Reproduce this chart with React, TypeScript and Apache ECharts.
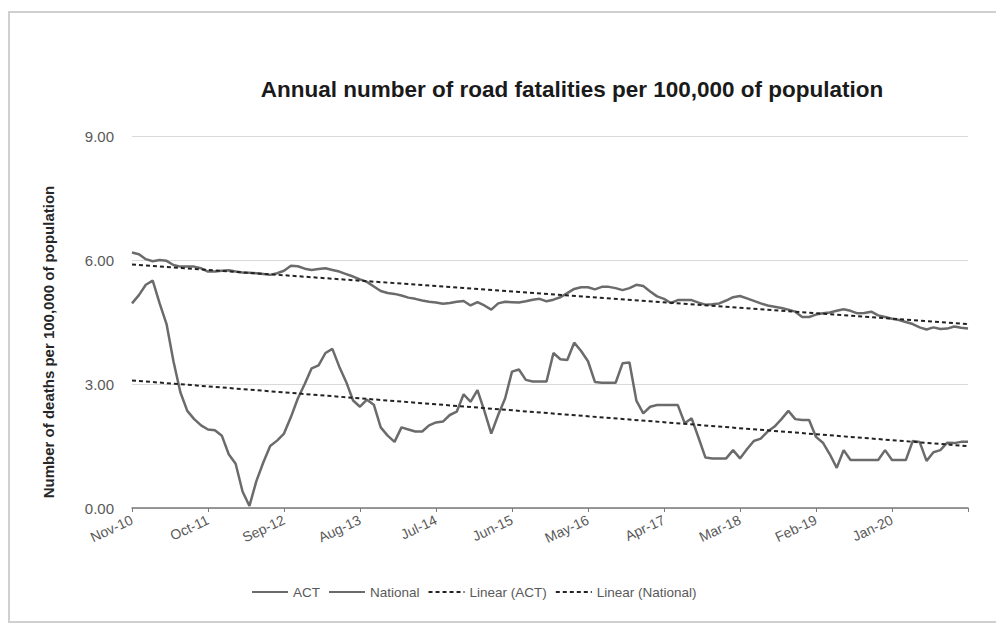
import React, { useEffect, useRef } from "react";
import * as echarts from "echarts";

const MONTH_NAMES = ["Jan", "Feb", "Mar", "Apr", "May", "Jun", "Jul", "Aug", "Sep", "Oct", "Nov", "Dec"];
const START_YEAR = 2010;
const START_MONTH = 10; // Nov (0-based)

const actValues = [
  4.95, 5.15, 5.4, 5.5, 4.95, 4.45, 3.55, 2.8, 2.35, 2.15, 2.0, 1.9, 1.88, 1.75, 1.3, 1.07, 0.4, 0.05, 0.65, 1.1,
  1.5, 1.63, 1.8, 2.2, 2.65, 3.0, 3.38, 3.45, 3.75, 3.85, 3.42, 3.05, 2.6, 2.45, 2.62, 2.5, 1.95, 1.75, 1.6, 1.95,
  1.9, 1.85, 1.85, 2.0, 2.07, 2.09, 2.25, 2.33, 2.75, 2.57, 2.85, 2.35, 1.8, 2.25, 2.65, 3.3, 3.35, 3.1, 3.06, 3.06,
  3.06, 3.75, 3.6, 3.58, 4.0, 3.8, 3.55, 3.05, 3.03, 3.03, 3.03, 3.5, 3.52, 2.6, 2.29, 2.45, 2.49, 2.49, 2.49, 2.49,
  2.05, 2.17, 1.7, 1.22, 1.2, 1.2, 1.2, 1.4, 1.2, 1.42, 1.62, 1.68, 1.85, 1.97, 2.15, 2.35, 2.15, 2.13, 2.13, 1.72,
  1.58, 1.3, 0.97, 1.4, 1.16, 1.16, 1.16, 1.16, 1.16, 1.4, 1.16, 1.16, 1.16, 1.62, 1.6, 1.14, 1.35, 1.4, 1.58, 1.57,
  1.6, 1.6,
];

const nationalValues = [
  6.18, 6.14, 6.02, 5.97, 6.0, 5.98, 5.88, 5.84, 5.84, 5.84, 5.8, 5.72, 5.72, 5.74, 5.75, 5.72, 5.7, 5.69, 5.68, 5.66,
  5.64, 5.68, 5.74, 5.86, 5.85, 5.79, 5.76, 5.78, 5.8, 5.76, 5.72, 5.66, 5.6, 5.53, 5.47, 5.36, 5.25, 5.2, 5.18, 5.14,
  5.09, 5.06, 5.02, 4.99, 4.97, 4.94, 4.96, 4.99, 5.01, 4.9, 4.98, 4.9, 4.8, 4.95, 4.99, 4.98, 4.97, 5.0, 5.04, 5.06,
  5.0, 5.04, 5.1, 5.2, 5.3, 5.34, 5.34, 5.29, 5.35, 5.35, 5.32, 5.27, 5.32, 5.4, 5.37, 5.24, 5.12, 5.06, 4.96, 5.03,
  5.03, 5.03, 4.97, 4.92, 4.93, 4.95, 5.02, 5.1, 5.13, 5.07, 5.01, 4.95, 4.9, 4.87, 4.84, 4.8, 4.75, 4.62, 4.62, 4.68,
  4.71, 4.73, 4.77, 4.81, 4.77, 4.71, 4.72, 4.75, 4.66, 4.62, 4.58, 4.55, 4.5, 4.45, 4.37, 4.32, 4.37, 4.33, 4.34, 4.39,
  4.36, 4.34,
];

const yTicks = [0, 3, 6, 9];
const LABEL_STEP = 11;

const categories: string[] = actValues.map((_, i) => {
  const m = START_MONTH + i;
  const year = START_YEAR + Math.floor(m / 12);
  return `${MONTH_NAMES[m % 12]}-${String(year % 100).padStart(2, "0")}`;
});

function linearFit(values: number[]): [number, number][] {
  const n = values.length;
  let sx = 0, sy = 0, sxx = 0, sxy = 0;
  values.forEach((v, i) => {
    sx += i; sy += v; sxx += i * i; sxy += i * v;
  });
  const slope = (n * sxy - sx * sy) / (n * sxx - sx * sx);
  const intercept = (sy - slope * sx) / n;
  return [
    [0, intercept],
    [n - 1, intercept + slope * (n - 1)],
  ];
}

const FONT = "'Liberation Sans', Arial, sans-serif";

export default function App() {
  const ref = useRef<HTMLDivElement>(null);
  useEffect(() => {
    if (!ref.current) return;
    const chart = echarts.init(ref.current, undefined, { renderer: "svg" });
    const lineColor = "#6b6b6b";
    chart.setOption({
      animation: false,
      backgroundColor: "#ffffff",
      textStyle: { fontFamily: FONT },
      graphic: [
        {
          type: "rect",
          shape: { x: 9, y: 12, width: 1000, height: 610 },
          style: { fill: "none", stroke: "#d0d0d0", lineWidth: 2 },
          silent: true,
        },
      ],
      title: {
        text: "Annual number of road fatalities per 100,000 of population",
        left: 567,
        textAlign: "center",
        top: 73,
        textStyle: { fontSize: 22.5, fontWeight: "bold", color: "#1a1a1a", fontFamily: FONT },
      },
      grid: { left: 132, right: 28, top: 136, bottom: 116 },
      legend: {
        bottom: 20,
        left: 246,
        itemWidth: 36,
        itemHeight: 10,
        itemGap: 8,
        itemStyle: { opacity: 0 },
        textStyle: { color: "#595959", fontSize: 13.5, fontFamily: FONT },
        data: ["ACT", "National", "Linear (ACT)", "Linear (National)"],
      },
      xAxis: {
        type: "category",
        boundaryGap: false,
        data: categories,
        axisLine: { lineStyle: { color: "#7a7a7a", width: 1.5 } },
        axisTick: {
          show: true,
          length: 4,
          interval: (i: number) => i % LABEL_STEP === 0,
          lineStyle: { color: "#7a7a7a" },
        },
        axisLabel: {
          interval: (i: number) => i % LABEL_STEP === 0 && i < categories.length - 1,
          rotate: 25,
          color: "#595959",
          fontSize: 14,
          margin: 11,
          fontFamily: FONT,
        },
        splitLine: { show: false },
      },
      yAxis: {
        type: "value",
        min: yTicks[0],
        max: yTicks[yTicks.length - 1],
        interval: 3,
        name: "Number of deaths per 100,000 of population",
        nameLocation: "middle",
        nameGap: 76,
        nameRotate: 90,
        nameTextStyle: {
          color: "#262626",
          fontSize: 15,
          fontWeight: "bold",
          fontFamily: FONT,
          padding: [0, 40, 0, 0],
        },
        axisLine: { show: false },
        axisTick: { show: false },
        axisLabel: {
          color: "#595959",
          fontSize: 15,
          margin: 18,
          formatter: (v: number) => v.toFixed(2),
          fontFamily: FONT,
        },
        splitLine: { lineStyle: { color: "#d9d9d9", width: 1 } },
      },
      series: [
        {
          name: "ACT",
          type: "line",
          data: actValues,
          symbol: "none",
          lineStyle: { color: lineColor, width: 2.5 },
          itemStyle: { color: lineColor },
          z: 3,
        },
        {
          name: "National",
          type: "line",
          data: nationalValues,
          symbol: "none",
          lineStyle: { color: lineColor, width: 2.5 },
          itemStyle: { color: lineColor },
          z: 3,
        },
        {
          name: "Linear (ACT)",
          type: "line",
          data: linearFit(actValues),
          symbol: "none",
          lineStyle: { color: "#222222", width: 2, type: [4, 3] },
          itemStyle: { color: "#222222" },
          z: 4,
        },
        {
          name: "Linear (National)",
          type: "line",
          data: linearFit(nationalValues),
          symbol: "none",
          lineStyle: { color: "#222222", width: 2, type: [4, 3] },
          itemStyle: { color: "#222222" },
          z: 4,
        },
      ],
    });
    return () => chart.dispose();
  }, []);
  return (
    <div
      ref={ref}
      style={{ position: "fixed", left: 0, top: 0, width: 996, height: 624 }}
    />
  );
}
